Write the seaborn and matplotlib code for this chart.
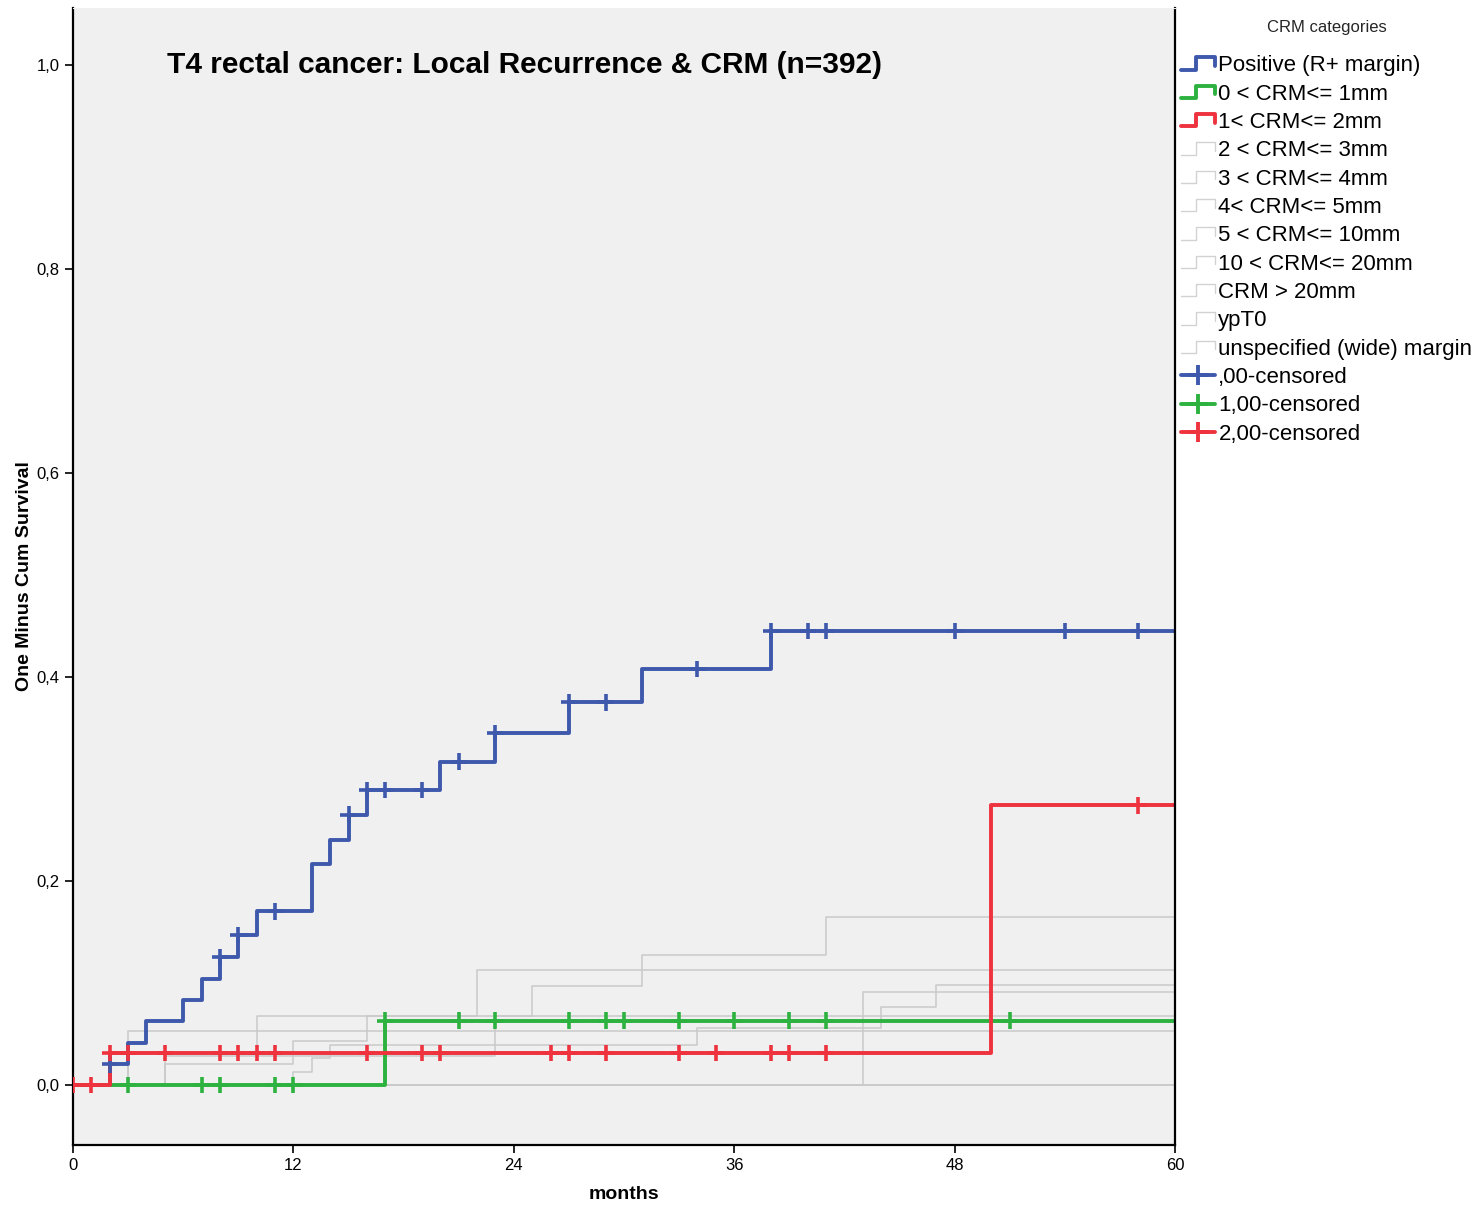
import numpy as np
import pandas as pd
import seaborn as sns
import matplotlib
matplotlib.use("Agg")
import matplotlib.pyplot as plt
from matplotlib.lines import Line2D
from matplotlib.legend_handler import HandlerLine2D

# KM curves (one minus cum survival): event times (months) and level after each step
pos_times = [2, 3, 4, 6, 7, 8, 9, 10, 13, 14, 15, 16, 20, 23, 27, 31, 38]
pos_levels = [0.020, 0.041, 0.063, 0.083, 0.104, 0.125, 0.147, 0.170, 0.217, 0.240,
              0.265, 0.289, 0.317, 0.345, 0.375, 0.408, 0.445]
pos_cens = [2, 8, 9, 11, 15, 16, 17, 19, 21, 23, 27, 29, 34, 38, 40, 41, 48, 54, 58]

crm1_times = [17]
crm1_levels = [0.063]
crm1_cens = [3, 7, 8, 11, 12, 17, 21, 23, 27, 29, 30, 33, 36, 39, 41, 51]

crm2_times = [2, 50]
crm2_levels = [0.031, 0.274]
crm2_cens = [0, 1, 2, 3, 5, 8, 9, 10, 11, 16, 19, 20, 26, 27, 29, 33, 35, 38, 39, 41, 58]

grey_names = ["2 < CRM<= 3mm", "3 < CRM<= 4mm", "4< CRM<= 5mm", "5 < CRM<= 10mm",
              "10 < CRM<= 20mm", "CRM > 20mm", "ypT0", "unspecified (wide) margin"]
grey_times = [[3, 10, 25, 31, 41], [43], [5, 23], [12, 13, 14, 34, 44, 47],
              [5, 12, 16, 22], [3], [], []]
grey_levels = [[0.031, 0.067, 0.097, 0.127, 0.165], [0.091], [0.028, 0.067],
               [0.013, 0.026, 0.039, 0.056, 0.076, 0.098],
               [0.020, 0.043, 0.067, 0.113], [0.053], [], []]

main_names = ["Positive (R+ margin)", "0 < CRM<= 1mm", "1< CRM<= 2mm"]
main_colors = ["#3E58AC", "#2DB240", "#EE323E"]
cens_names = [",00-censored", "1,00-censored", "2,00-censored"]
grey_col = "#C9C9C9"
x_max = 60


def step_frame(name, times, levels):
    xs = [0] + list(times) + [x_max]
    ys = [0.0] + list(levels) + ([levels[-1]] if levels else [0.0])
    return pd.DataFrame({"months": xs, "value": ys, "group": name})


def level_at(times, levels, t):
    i = np.searchsorted(times, t, side="right")
    return 0.0 if i == 0 else levels[i - 1]


main_df = pd.concat([step_frame(n, t, l) for n, t, l in
                     zip(main_names, [pos_times, crm1_times, crm2_times],
                         [pos_levels, crm1_levels, crm2_levels])])
grey_df = pd.concat([step_frame(n, t, l) for n, t, l in zip(grey_names, grey_times, grey_levels)])

cens_rows = []
for n, t, l, c in zip(main_names, [pos_times, crm1_times, crm2_times],
                      [pos_levels, crm1_levels, crm2_levels],
                      [pos_cens, crm1_cens, crm2_cens]):
    for ct in c:
        cens_rows.append({"months": ct, "value": level_at(t, l, ct), "group": n})
cens_df = pd.DataFrame(cens_rows)

sns.set_style("white")
plt.rcParams["font.family"] = ["Liberation Sans", "DejaVu Sans"]

fig = plt.figure(figsize=(14.81, 12.07), dpi=100)
ax = fig.add_axes([0.0493, 0.0514, 0.7441, 0.942])
ax.set_facecolor("#F0F0F0")

sns.lineplot(data=grey_df, x="months", y="value", hue="group", palette=[grey_col] * len(grey_names),
             drawstyle="steps-post", estimator=None, linewidth=1.1, legend=False, ax=ax)
sns.lineplot(data=main_df, x="months", y="value", hue="group", palette=main_colors,
             drawstyle="steps-post", estimator=None, linewidth=2.8, legend=False, ax=ax)
sns.scatterplot(data=cens_df, x="months", y="value", hue="group", palette=main_colors,
                marker="+", s=140, linewidth=2.6, legend=False, zorder=5, ax=ax)

ax.set_xlim(0, 60)
ax.set_ylim(-0.059, 1.056)
ax.set_xticks([0, 12, 24, 36, 48, 60])
ax.set_yticks([0.0, 0.2, 0.4, 0.6, 0.8, 1.0])
ax.set_yticklabels(["0,0", "0,2", "0,4", "0,6", "0,8", "1,0"])
ax.tick_params(axis="both", which="both", direction="out", length=6, width=1.2,
               labelsize=12, left=True, bottom=True, color="black", labelcolor="black")
for side in ["left", "bottom", "right"]:
    ax.spines[side].set_color("black")
    ax.spines[side].set_linewidth(1.6)
ax.spines["top"].set_color("#F0F0F0")

ax.set_xlabel("months", fontsize=14, fontweight="bold", labelpad=9, color="black")
ax.set_ylabel("One Minus Cum Survival", fontsize=14, fontweight="bold", labelpad=3, color="black")

ax.text(0.41, 0.95, "T4 rectal cancer: Local Recurrence & CRM (n=392)", transform=ax.transAxes,
        ha="center", va="center", fontsize=21.5, fontweight="bold", color="black")


class StepHandler(HandlerLine2D):
    def create_artists(self, legend, orig_handle, xdescent, ydescent, width, height, fontsize, trans):
        x0, y0 = -xdescent, -ydescent
        xs = [x0, x0 + 0.45 * width, x0 + 0.45 * width, x0 + width, x0 + width]
        ys = [y0 + 0.1 * height, y0 + 0.1 * height, y0 + 0.9 * height, y0 + 0.9 * height, y0 + 0.35 * height]
        line = Line2D(xs, ys, color=orig_handle.get_color(), lw=orig_handle.get_linewidth())
        line.set_transform(trans)
        return [line]


step_handles = [Line2D([], [], color=c, lw=2.8) for c in main_colors]
step_handles += [Line2D([], [], color="#D2D2D2", lw=1.0) for _ in grey_names]
cens_handles = [Line2D([], [], color=c, lw=2.8, marker="+", ms=14, mew=2.8) for c in main_colors]
handles = step_handles + cens_handles
labels = main_names + grey_names + cens_names

leg = ax.legend(handles, labels, handler_map={h: StepHandler() for h in step_handles},
                loc="upper left", bbox_to_anchor=(0.994, 1.0), frameon=False, fontsize=16,
                title="CRM categories\n", title_fontsize=12, handlelength=1.55,
                handletextpad=0.15, labelspacing=0.33, borderaxespad=0.1, borderpad=0.45)
leg._legend_box.align = "center"
leg._legend_box.sep = 2
for t in leg.get_texts():
    t.set_color("black")

fig.savefig("out.png", dpi=100, facecolor="white")
